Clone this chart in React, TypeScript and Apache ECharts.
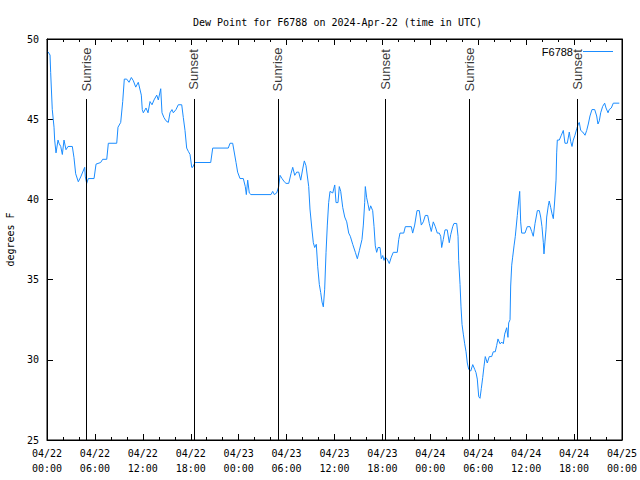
import React, { useEffect, useRef } from "react";
import * as echarts from "echarts";

// hours after 2024-04-22 00:00 UTC
const hours: number[] = [
  0.13, 0.38, 0.46, 0.66, 0.88, 0.96, 1.13, 1.38, 1.5, 1.72, 1.92, 2.13, 2.38, 2.63, 3.17, 3.38, 3.59, 3.92, 4.22, 4.72,
  4.8, 4.97, 5.17, 5.89, 6.14, 6.72, 6.97, 7.48, 7.68, 8.73, 8.89, 9.23, 9.48, 9.68, 9.98, 10.27, 10.56, 10.81, 11.11, 11.43,
  11.81, 11.93, 12.06, 12.4, 12.65, 12.9, 13.15, 13.4, 13.74, 13.94, 14.24, 14.4, 14.65, 14.9, 15.19, 15.4, 15.65, 15.82, 16.15, 16.44,
  16.87, 17.07, 17.28, 17.49, 17.69, 17.91, 18.12, 18.24, 18.53, 20.5, 20.75, 22.7, 22.92, 23.25, 23.67, 23.87, 24.17, 24.58, 24.83, 24.96,
  25.13, 25.33, 25.54, 28.05, 28.26, 28.46, 28.76, 29.01, 29.18, 29.43, 29.71, 29.93, 30.27, 30.55, 30.77, 31.02, 31.27, 31.52, 31.77, 32.02,
  32.22, 32.43, 32.77, 32.93, 33.18, 33.35, 33.52, 33.72, 33.9, 34.1, 34.27, 34.44, 34.6, 34.77, 34.94, 35.1, 35.27, 35.44, 35.78, 36.03,
  36.19, 36.44, 36.6, 36.78, 37.03, 37.28, 37.53, 37.78, 37.98, 38.28, 38.61, 38.86, 39.11, 39.44, 39.61, 39.78, 39.86, 40.03, 40.2, 40.36,
  40.53, 40.78, 40.95, 41.11, 41.28, 41.45, 41.7, 41.86, 42.04, 42.2, 42.36, 42.57, 42.86, 43.11, 43.36, 43.86, 44.04, 44.2, 44.67, 44.87,
  45.62, 45.79, 46.04, 46.33, 46.62, 46.87, 47.12, 47.37, 47.67, 47.87, 48.12, 48.37, 48.62, 48.87, 49.12, 49.3, 49.42, 49.62, 49.84, 50.12,
  50.37, 50.55, 50.8, 50.96, 51.3, 51.47, 51.55, 51.72, 51.84, 51.97, 52.13, 52.3, 52.47, 52.63, 52.81, 53.06, 53.31, 53.56, 53.72, 53.88,
  54.06, 54.22, 54.38, 54.56, 54.72, 54.88, 55.13, 55.38, 55.68, 55.88, 56.13, 56.31, 56.47, 56.72, 56.97, 57.14, 57.31, 57.56, 57.72, 57.81,
  57.98, 58.06, 58.19, 58.31, 58.48, 58.64, 58.89, 59.06, 59.19, 59.31, 59.44, 59.85, 60.14, 60.48, 60.69, 60.89, 61.11, 61.4, 61.65, 61.82,
  61.98, 62.15, 62.23, 62.36, 62.48, 62.57, 62.77, 62.89, 63.07, 63.24, 63.4, 63.57, 63.74, 63.82, 63.9, 64.15, 64.4, 64.65, 64.86, 65.15,
  65.4, 65.58, 65.74, 65.9, 66.11, 66.33, 66.53, 66.65, 66.83, 67.08, 67.37, 67.58, 67.78, 67.99, 68.24, 68.58, 68.83, 68.99, 69.16, 69.33,
  69.58, 69.83, 70.0, 70.25, 70.4, 70.66, 70.91, 71.66,
];

const dewPoint: number[] = [
  49.2, 49.0, 47.9, 45.6, 44.5, 43.7, 42.9, 43.7, 43.5, 43.3, 42.8, 43.7, 43.1, 43.3, 43.3, 42.6, 41.6, 41.1, 41.4, 42.0,
  41.4, 41.0, 41.3, 41.3, 42.2, 42.3, 42.5, 42.5, 43.5, 43.5, 44.5, 44.8, 46.1, 47.5, 47.5, 47.3, 47.6, 47.4, 47.0, 47.3,
  46.5, 45.6, 45.4, 45.7, 45.4, 46.1, 45.9, 46.2, 46.5, 46.2, 46.9, 45.4, 45.1, 44.9, 44.8, 45.4, 45.6, 45.4, 45.6, 45.9,
  45.9, 45.1, 44.3, 43.2, 43.0, 42.8, 42.0, 42.0, 42.3, 42.3, 43.2, 43.2, 43.5, 43.5, 42.3, 41.7, 41.3, 41.3, 40.8, 40.3,
  41.2, 40.4, 40.3, 40.3, 40.5, 40.3, 40.4, 40.8, 41.5, 41.3, 41.1, 41.0, 41.0, 41.6, 42.0, 41.5, 41.7, 41.7, 41.2, 41.9,
  42.4, 42.1, 40.8, 39.4, 38.1, 37.3, 37.0, 37.2, 35.8, 34.7, 34.2, 33.6, 33.3, 34.4, 36.7, 38.4, 39.8, 40.5, 40.4, 40.9,
  39.8, 39.8, 40.8, 40.5, 39.5, 38.9, 38.6, 37.9, 37.7, 37.2, 36.7, 36.3, 36.8, 37.5, 38.4, 39.8, 40.8, 40.1, 39.7, 39.3,
  39.6, 39.3, 38.3, 37.1, 36.7, 37.0, 37.0, 36.3, 36.5, 36.2, 36.4, 36.3, 36.0, 36.4, 36.7, 36.7, 37.5, 37.9, 37.9, 38.3,
  38.3, 37.9, 38.4, 39.3, 39.3, 38.4, 38.6, 39.0, 39.0, 38.5, 38.0, 38.6, 38.3, 37.9, 37.9, 37.7, 37.0, 37.5, 38.1, 38.1,
  37.3, 37.8, 38.3, 38.5, 38.5, 37.7, 36.2, 34.7, 33.3, 32.2, 31.6, 31.0, 30.5, 29.8, 29.4, 29.3, 29.7, 29.4, 29.2, 28.8,
  27.7, 27.6, 28.2, 28.9, 29.6, 30.2, 29.8, 30.2, 30.2, 30.5, 30.5, 30.9, 31.3, 31.0, 31.1, 31.0, 31.6, 32.0, 31.4, 32.3,
  32.5, 34.6, 35.9, 36.4, 37.1, 37.7, 39.0, 39.9, 40.5, 38.6, 37.9, 37.9, 38.3, 38.3, 38.0, 37.7, 38.5, 39.3, 39.3, 38.9,
  38.3, 37.3, 36.6, 37.4, 38.1, 38.9, 39.6, 39.9, 39.5, 39.1, 38.8, 39.9, 41.2, 42.9, 43.7, 43.7, 44.0, 44.3, 43.5, 43.5,
  44.2, 43.6, 43.3, 43.7, 44.0, 44.4, 44.7, 44.8, 44.3, 44.2, 44.0, 44.3, 44.7, 45.2, 45.6, 45.6, 45.2, 44.7, 44.9, 45.4,
  45.8, 46.0, 45.7, 45.4, 45.6, 45.7, 46.0, 46.0,
];

// sunrise / sunset markers (hours after start)
const sunHours: number[] = [4.9, 18.4, 28.9, 42.4, 52.9, 66.4];
const sunLabels: string[] = ["Sunrise", "Sunset", "Sunrise", "Sunset", "Sunrise", "Sunset"];

const seriesName = "F6788";
const titleText = "Dew Point for F6788 on 2024-Apr-22 (time in UTC)";
const yName = "degrees F";

const START = Date.UTC(2024, 3, 22);
const HOUR = 3600 * 1000;

const pad = (n: number) => (n < 10 ? "0" + n : "" + n);

export default function App() {
  const ref = useRef<HTMLDivElement>(null);
  useEffect(() => {
    document.body.style.margin = "0";
    if (!ref.current) return;
    const chart = echarts.init(ref.current, null, { renderer: "svg" });
    const mono = "DejaVu Sans Mono";
    const data = hours.map((h, i) => [START + h * HOUR, dewPoint[i]]);
    const xCommon = {
      type: "value" as const,
      min: START,
      max: START + 72 * HOUR,
      interval: 6 * HOUR,
      axisLine: { show: true, lineStyle: { color: "#000", width: 1 } },
      axisTick: { show: true, inside: true, length: 6, lineStyle: { color: "#000" } },
      minorTick: { show: true, splitNumber: 3, length: 3, lineStyle: { color: "#000" } },
      splitLine: { show: false },
    };
    const yCommon = {
      type: "value" as const,
      min: 25,
      max: 50,
      interval: 5,
      axisLine: { show: true, lineStyle: { color: "#000", width: 1 } },
      axisTick: { show: true, inside: true, length: 6, lineStyle: { color: "#000" } },
      splitLine: { show: false },
    };
    chart.setOption({
      animation: false,
      backgroundColor: "#fff",
      title: {
        text: titleText,
        left: 188,
        top: 12,
        textStyle: { fontFamily: mono, fontSize: 10, fontWeight: "normal", color: "#000" },
      },
      legend: {
        data: [{ name: seriesName, icon: "rect" }],
        right: 22,
        top: 41,
        align: "right",
        itemWidth: 30,
        itemHeight: 1,
        itemGap: 5,
        textStyle: { fontFamily: "Liberation Sans", fontSize: 11, color: "#000", padding: [0, 5, 0, 0] },
        selectedMode: false,
      },
      grid: {
        left: 47,
        right: 18,
        top: 39,
        bottom: 40,
        show: true,
        borderColor: "#000",
        borderWidth: 1,
        containLabel: false,
        outerBoundsMode: "none",
      },
      xAxis: [
        {
          ...xCommon,
          position: "bottom",
          axisLabel: {
            fontFamily: mono,
            fontSize: 10,
            color: "#000",
            margin: 6,
            lineHeight: 15,
            showMinLabel: true,
            showMaxLabel: true,
            formatter: (v: number) => {
              const d = new Date(v);
              return `${pad(d.getUTCMonth() + 1)}/${pad(d.getUTCDate())}\n${pad(d.getUTCHours())}:${pad(d.getUTCMinutes())}`;
            },
          },
        },
        { ...xCommon, position: "top", axisLabel: { show: false } },
      ],
      yAxis: [
        {
          ...yCommon,
          position: "left",
          name: yName,
          nameLocation: "middle",
          nameGap: 32,
          nameTextStyle: { fontFamily: mono, fontSize: 10, color: "#000" },
          axisLabel: { fontFamily: mono, fontSize: 10, color: "#000", margin: 8 },
        },
        { ...yCommon, position: "right", axisLabel: { show: false } },
      ],
      series: [
        {
          name: seriesName,
          type: "line",
          data,
          showSymbol: false,
          symbol: "none",
          lineStyle: { color: "#1a8cff", width: 1 },
          itemStyle: { color: "#1a8cff" },
          markLine: {
            silent: true,
            symbol: ["none", "none"],
            label: { show: false },
            lineStyle: { color: "#000", width: 1, type: "solid" },
            data: sunHours.map((h) => [
              { coord: [START + h * HOUR, 25] },
              { coord: [START + h * HOUR, 46.26] },
            ]),
          },
        },
        {
          name: "sun",
          type: "scatter",
          silent: true,
          symbolSize: 0,
          data: sunHours.map((h, i) => ({ value: [START + h * HOUR, 48.1], name: sunLabels[i] })),
          label: {
            show: true,
            position: "inside",
            rotate: 90,
            formatter: (p: any) => p.name,
            fontFamily: "Liberation Sans",
            fontSize: 13,
            color: "#000",
          },
        },
      ],
    });
    return () => chart.dispose();
  }, []);
  return <div ref={ref} style={{ width: 640, height: 480 }} />;
}
